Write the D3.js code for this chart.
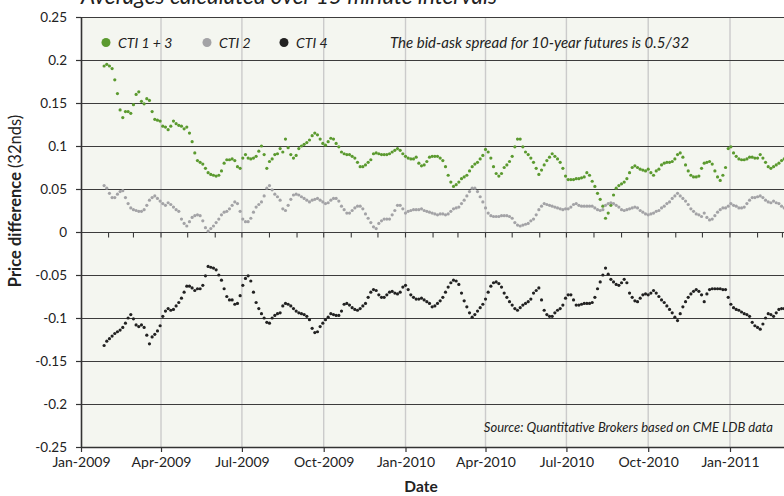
<!DOCTYPE html>
<html><head><meta charset="utf-8">
<script src="https://cdn.jsdelivr.net/npm/d3@7"></script>
<style>body{margin:0;background:#fff}svg{display:block}</style>
</head><body>
<svg id="chart" width="784" height="496"></svg>
<script>
// ---------- data ----------
const seriesStart = "2009-01-27";
const stepDays = 3;
const cti13 = [
.193,.195,.193,.19,.177,.161,.142,.133,.14,.14,
.138,.148,.16,.163,.152,.149,.155,.153,.14,.131,
.13,.129,.123,.122,.119,.123,.129,.126,.124,.123,
.12,.122,.115,.105,.092,.083,.081,.079,.074,.069,
.067,.066,.065,.066,.071,.08,.084,.084,.085,.083,
.076,.074,.086,.09,.086,.085,.086,.088,.094,.1,
.09,.074,.082,.085,.09,.091,.097,.093,.108,.098,
.09,.086,.089,.097,.1,.102,.104,.107,.112,.115,
.113,.108,.103,.101,.105,.109,.108,.103,.099,.093,
.091,.09,.09,.088,.086,.081,.076,.076,.078,.081,
.084,.091,.092,.091,.09,.09,.09,.091,.093,.095,
.097,.095,.091,.088,.086,.085,.085,.087,.08,.077,
.078,.082,.087,.088,.088,.088,.086,.083,.076,.066,
.058,.053,.055,.058,.062,.064,.066,.071,.076,.079,
.081,.085,.089,.096,.093,.086,.076,.068,.065,.068,
.075,.078,.082,.088,.099,.108,.108,.099,.093,.09,
.086,.081,.074,.067,.072,.078,.083,.087,.091,.088,
.085,.081,.074,.065,.061,.061,.061,.062,.062,.063,
.064,.069,.066,.059,.053,.045,.038,.03,.016,.022,
.031,.043,.051,.054,.056,.058,.062,.069,.075,.077,
.075,.073,.072,.071,.073,.069,.066,.071,.073,.078,
.08,.081,.081,.082,.085,.09,.092,.087,.078,.071,
.066,.064,.064,.065,.074,.08,.081,.082,.079,.071,
.064,.06,.066,.075,.097,.099,.092,.088,.085,.084,
.084,.085,.087,.087,.086,.086,.09,.086,.081,.076,
.074,.076,.078,.08,.083,.085];
const cti2 = [
.054,.051,.045,.04,.04,.044,.047,.048,.04,.033,
.028,.026,.025,.024,.024,.026,.031,.037,.04,.042,
.039,.036,.033,.031,.034,.032,.029,.026,.024,.015,
.01,.007,.012,.017,.019,.02,.019,.013,.005,.001,
.004,.007,.011,.015,.02,.023,.024,.027,.031,.035,
.033,.024,.015,.012,.012,.016,.023,.029,.032,.035,
.042,.051,.054,.049,.044,.041,.037,.027,.025,.031,
.038,.043,.044,.043,.041,.039,.037,.035,.037,.038,
.039,.037,.035,.033,.034,.037,.039,.039,.036,.03,
.026,.022,.022,.025,.028,.03,.03,.027,.021,.016,
.011,.006,.004,.01,.013,.015,.015,.015,.02,.025,
.031,.031,.027,.022,.024,.025,.026,.026,.026,.027,
.025,.024,.023,.022,.021,.02,.021,.021,.02,.021,
.024,.027,.028,.029,.033,.037,.042,.047,.051,.051,
.047,.041,.035,.028,.022,.019,.018,.018,.018,.019,
.019,.019,.018,.016,.011,.008,.007,.008,.009,.01,
.013,.015,.02,.026,.03,.033,.032,.031,.03,.029,
.028,.027,.026,.027,.027,.029,.032,.033,.031,.03,
.03,.03,.03,.03,.028,.026,.025,.026,.031,.033,
.034,.033,.031,.029,.026,.025,.026,.027,.028,.029,
.028,.025,.023,.021,.02,.021,.022,.024,.025,.028,
.03,.033,.035,.039,.042,.045,.042,.039,.036,.032,
.027,.024,.021,.02,.018,.022,.017,.014,.015,.019,
.023,.026,.028,.028,.03,.033,.031,.03,.028,.028,
.029,.033,.037,.04,.04,.041,.042,.04,.037,.035,
.034,.036,.034,.033,.03,.028];
const cti4 = [
-.132,-.127,-.124,-.121,-.118,-.116,-.114,-.111,-.106,-.1,
-.096,-.101,-.108,-.11,-.108,-.111,-.12,-.13,-.122,-.119,
-.115,-.109,-.098,-.092,-.089,-.091,-.09,-.086,-.082,-.077,
-.07,-.063,-.063,-.065,-.068,-.066,-.066,-.062,-.051,-.04,
-.041,-.042,-.044,-.05,-.056,-.066,-.075,-.079,-.079,-.084,
-.083,-.074,-.062,-.054,-.051,-.057,-.07,-.082,-.089,-.095,
-.1,-.105,-.106,-.1,-.097,-.095,-.094,-.086,-.083,-.084,
-.086,-.089,-.092,-.094,-.095,-.096,-.098,-.102,-.112,-.117,
-.116,-.11,-.106,-.102,-.099,-.095,-.096,-.097,-.097,-.092,
-.084,-.083,-.085,-.088,-.09,-.091,-.089,-.086,-.083,-.076,
-.07,-.067,-.068,-.073,-.076,-.076,-.073,-.07,-.069,-.071,
-.072,-.07,-.064,-.062,-.067,-.073,-.076,-.078,-.078,-.077,
-.079,-.081,-.083,-.087,-.086,-.083,-.08,-.076,-.07,-.064,
-.059,-.056,-.057,-.061,-.071,-.08,-.087,-.094,-.099,-.096,
-.092,-.088,-.084,-.078,-.07,-.063,-.059,-.058,-.06,-.064,
-.071,-.076,-.081,-.085,-.089,-.091,-.088,-.085,-.083,-.081,
-.078,-.071,-.068,-.065,-.079,-.091,-.096,-.098,-.098,-.094,
-.091,-.089,-.085,-.077,-.073,-.073,-.079,-.085,-.085,-.084,
-.083,-.083,-.083,-.082,-.076,-.066,-.058,-.05,-.042,-.049,
-.055,-.058,-.061,-.062,-.059,-.055,-.059,-.071,-.076,-.08,
-.081,-.077,-.073,-.072,-.073,-.071,-.068,-.071,-.075,-.079,
-.082,-.086,-.09,-.094,-.099,-.103,-.095,-.087,-.081,-.076,
-.072,-.069,-.067,-.069,-.073,-.081,-.072,-.067,-.066,-.066,
-.066,-.066,-.067,-.067,-.076,-.084,-.088,-.09,-.091,-.093,
-.095,-.096,-.098,-.105,-.109,-.111,-.113,-.107,-.1,-.095,
-.096,-.098,-.094,-.09,-.089,-.089];

const seriesNames = ["CTI 1 + 3", "CTI 2", "CTI 4"];
const yTickValues = [-0.25,-0.2,-0.15,-0.1,-0.05,0,0.05,0.1,0.15,0.2,0.25];
const yTickLabels = ["-0.25","-0.2","-0.15","-0.1","-0.05","0","0.05","0.1","0.15","0.2","0.25"];
const xTickDates = ["2009-01-01","2009-04-01","2009-07-01","2009-10-01","2010-01-01","2010-04-01","2010-07-01","2010-10-01","2011-01-01"];
const xTickLabels = ["Jan-2009","Apr-2009","Jul-2009","Oct-2009","Jan-2010","Apr-2010","Jul-2010","Oct-2010","Jan-2011"];
const titleText = "Averages calculated over 15 minute intervals";
const noteText = "The bid-ask spread for 10-year futures is 0.5/32";
const sourceText = "Source: Quantitative Brokers based on CME LDB data";

// ---------- drawing ----------
const FONT = "Lato, 'Open Sans', 'DejaVu Sans', sans-serif";
const colors = ["#5b9a2f", "#a3a3a6", "#222222"];
const svg = d3.select("#chart");
const W = 784, H = 496;
const m = {left: 81, top: 17, bottom: 447, right: 784};
const parse = d3.utcParse("%Y-%m-%d");
const start = parse(seriesStart);
const dates = d3.range(cti13.length).map(i => d3.utcDay.offset(start, i * stepDays));

const x = d3.scaleUtc().domain([parse("2009-01-01"), parse("2011-01-01")]).range([81, 730]);
const y = d3.scaleLinear().domain([-0.25, 0.25]).range([m.bottom, m.top]);

svg.append("rect").attr("width", W).attr("height", H).attr("fill", "#fff");
svg.append("defs").append("clipPath").attr("id", "clip")
  .append("rect").attr("x", m.left).attr("y", m.top - 3).attr("width", m.right - m.left).attr("height", m.bottom - m.top + 6);

svg.append("rect").attr("x", m.left).attr("y", m.top).attr("width", m.right - m.left).attr("height", m.bottom - m.top)
  .attr("fill", "#f4f6f0");

// vertical quarterly grid
svg.append("g").selectAll("line").data(xTickDates.slice(1)).join("line")
  .attr("x1", d => x(parse(d))).attr("x2", d => x(parse(d)))
  .attr("y1", m.top).attr("y2", m.bottom)
  .attr("stroke", "#cbcbcb").attr("stroke-width", 1.4);

// horizontal grid (incl. top border)
svg.append("g").selectAll("line").data(yTickValues.filter(v => v > -0.25)).join("line")
  .attr("x1", m.left).attr("x2", m.right)
  .attr("y1", d => Math.round(y(d)) + 0.5).attr("y2", d => Math.round(y(d)) + 0.5)
  .attr("stroke", "#3c3c3c").attr("stroke-width", 1.2);

// monthly ticks on zero line
const months = d3.utcMonth.range(parse("2009-02-01"), parse("2011-04-01"));
svg.append("g").selectAll("line").data(months).join("line")
  .attr("x1", d => x(d)).attr("x2", d => x(d))
  .attr("y1", Math.round(y(0)) + 0.5).attr("y2", Math.round(y(0)) + 5.5)
  .attr("stroke", "#3c3c3c").attr("stroke-width", 1.1);

// series dots
const plot = svg.append("g").attr("clip-path", "url(#clip)");
[cti13, cti2, cti4].forEach((vals, k) => {
  plot.append("g").selectAll("circle").data(vals).join("circle")
    .attr("cx", (d, i) => x(dates[i])).attr("cy", d => y(d))
    .attr("r", 1.6).attr("fill", colors[k]);
});

// axes
const yAxis = d3.axisLeft(y).tickValues(yTickValues).tickSize(5).tickPadding(9)
  .tickFormat((d, i) => yTickLabels[i]);
const gy = svg.append("g").attr("transform", `translate(${m.left},0)`).call(yAxis);
gy.select(".domain").remove();
gy.selectAll(".tick line").attr("stroke", "#333").attr("stroke-width", 1.2);
gy.selectAll(".tick text").attr("font-family", FONT).attr("font-size", 13.5).attr("fill", "#222");
svg.append("line").attr("x1", m.left + 0.5).attr("x2", m.left + 0.5).attr("y1", m.top).attr("y2", m.bottom + 0.5)
  .attr("stroke", "#333").attr("stroke-width", 1.6);

const xAxis = d3.axisBottom(x).tickValues(xTickDates.map(parse)).tickSize(5).tickPadding(5)
  .tickFormat((d, i) => xTickLabels[i]);
const gx = svg.append("g").attr("transform", `translate(0,${m.bottom})`).call(xAxis);
gx.select(".domain").remove();
gx.selectAll(".tick line").attr("stroke", "#333").attr("stroke-width", 1.2);
gx.selectAll(".tick text").attr("font-family", FONT).attr("font-size", 14).attr("fill", "#222");
svg.append("line").attr("x1", m.left).attr("x2", m.right).attr("y1", m.bottom + 0.5).attr("y2", m.bottom + 0.5)
  .attr("stroke", "#333").attr("stroke-width", 1.4);

// axis titles
const yt = svg.append("text").attr("transform", `translate(21,201) rotate(-90)`)
  .attr("text-anchor", "middle").attr("font-family", FONT).attr("font-size", 16.5).attr("fill", "#222");
yt.append("tspan").attr("font-weight", "bold").text("Price difference ");
yt.append("tspan").text("(32nds)");
svg.append("text").attr("x", 421).attr("y", 492).attr("text-anchor", "middle")
  .attr("font-family", FONT).attr("font-size", 15.5).attr("font-weight", "bold").attr("fill", "#222").text("Date");

// title (cut at top, as in the reference)
svg.append("text").attr("x", 81).attr("y", 4).attr("font-family", FONT).attr("font-style", "italic")
  .attr("font-size", 22.5).attr("fill", "#222").text(titleText);

// legend
const legX = [106, 207, 284];
const lg = svg.append("g");
seriesNames.forEach((n, k) => {
  lg.append("circle").attr("cx", legX[k]).attr("cy", 42.5).attr("r", 4.5).attr("fill", colors[k]);
  lg.append("text").attr("x", legX[k] + 12).attr("y", 47.5).attr("font-family", FONT).attr("font-style", "italic")
    .attr("font-size", 14).attr("fill", "#222").text(n);
});
svg.append("text").attr("x", 390).attr("y", 47.5).attr("font-family", FONT).attr("font-style", "italic")
  .attr("font-size", 15).attr("fill", "#222").text(noteText);
svg.append("text").attr("x", 773).attr("y", 432).attr("text-anchor", "end").attr("font-family", FONT)
  .attr("font-style", "italic").attr("font-size", 13).attr("fill", "#222").text(sourceText);
</script>
</body></html>
